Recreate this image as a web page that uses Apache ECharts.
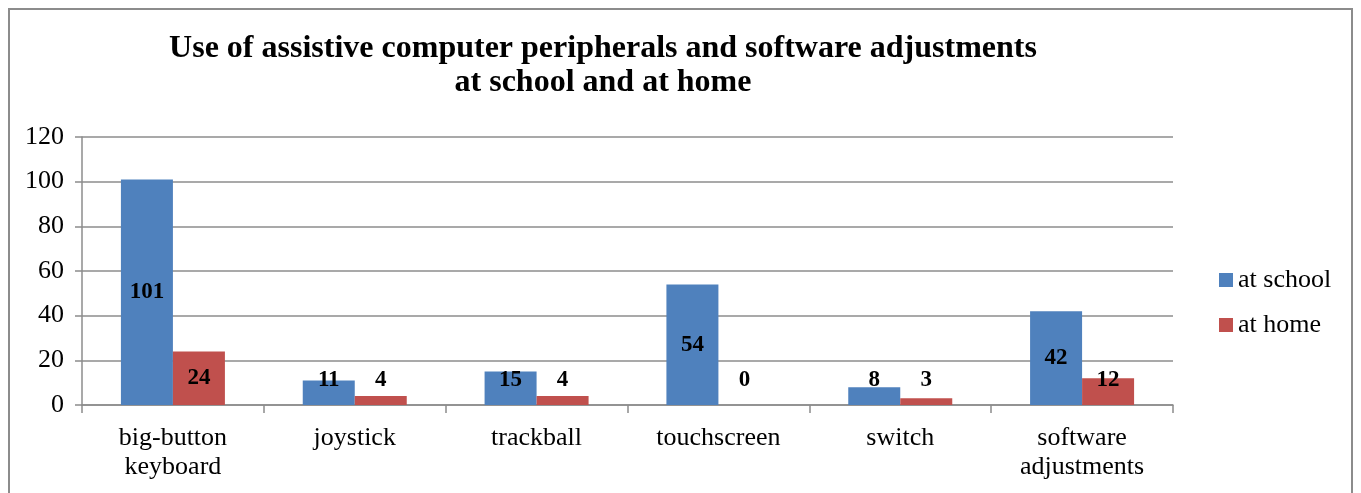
<!DOCTYPE html>
<html>
<head>
<meta charset="utf-8">
<script src="https://cdn.jsdelivr.net/npm/echarts@6/dist/echarts.min.js"></script>
<style>
  html, body { margin: 0; padding: 0; background: #fff; }
  #chart { width: 1361px; height: 493px; }
</style>
</head>
<body>
<div id="chart"></div>
<script>
const categories = ['big-button\nkeyboard', 'joystick', 'trackball', 'touchscreen', 'switch', 'software\nadjustments'];
const atSchool = [101, 11, 15, 54, 8, 42];
const atHome = [24, 4, 4, 0, 3, 12];
const yTicks = { min: 0, max: 120, interval: 20 };

const FONT = '"Liberation Serif", "Times New Roman", serif';

// Short bars can't hold their label in the middle, so lift it to sit just above the axis.
function withLabels(values) {
  return values.map(v => {
    if (v >= 22) return { value: v };
    return { value: v, label: { position: 'insideBottom', distance: 13 } };
  });
}

const labelStyle = {
  show: true,
  position: 'inside',
  fontFamily: FONT,
  fontWeight: 'bold',
  fontSize: 23,
  color: '#000'
};

const chart = echarts.init(document.getElementById('chart'));
chart.setOption({
  animation: false,
  backgroundColor: '#fff',
  graphic: [{
    type: 'rect',
    shape: { x: 9, y: 9, width: 1343, height: 500 },
    style: { fill: 'none', stroke: '#8c8c8c', lineWidth: 2 },
    silent: true
  }],
  title: {
    text: 'Use of assistive computer peripherals and software adjustments\nat school and at home',
    left: 598,
    top: 27,
    textAlign: 'center',
    textStyle: {
      fontFamily: FONT,
      fontWeight: 'bold',
      fontSize: 32,
      lineHeight: 34,
      color: '#000'
    }
  },
  legend: {
    orient: 'vertical',
    left: 1214,
    top: 262,
    itemWidth: 14,
    itemHeight: 14,
    itemGap: 19,
    icon: 'rect',
    textStyle: { fontFamily: FONT, fontSize: 26, color: '#000' },
    data: ['at school', 'at home']
  },
  grid: { left: 82, right: 188, top: 137, bottom: 88 },
  xAxis: {
    type: 'category',
    data: categories,
    axisLine: { lineStyle: { color: '#8c8c8c', width: 1.5 } },
    axisTick: { show: true, length: 8, alignWithLabel: false, lineStyle: { color: '#8c8c8c', width: 1.5 } },
    axisLabel: {
      interval: 0,
      margin: 19,
      fontFamily: FONT,
      fontSize: 26,
      lineHeight: 29,
      color: '#000'
    }
  },
  yAxis: {
    type: 'value',
    min: yTicks.min,
    max: yTicks.max,
    interval: yTicks.interval,
    axisLine: { show: true, lineStyle: { color: '#8c8c8c', width: 1.5 } },
    axisTick: { show: true, length: 7, lineStyle: { color: '#8c8c8c', width: 1.5 } },
    splitLine: { lineStyle: { color: '#8c8c8c', width: 1.5 } },
    axisLabel: {
      margin: 18,
      fontFamily: FONT,
      fontSize: 26,
      color: '#000'
    }
  },
  series: [
    {
      name: 'at school',
      type: 'bar',
      data: withLabels(atSchool),
      barWidth: 52,
      barGap: '0%',
      itemStyle: { color: '#4F81BD' },
      label: labelStyle
    },
    {
      name: 'at home',
      type: 'bar',
      data: withLabels(atHome),
      barWidth: 52,
      barGap: '0%',
      itemStyle: { color: '#C0504D' },
      label: labelStyle
    }
  ]
});
</script>
</body>
</html>
